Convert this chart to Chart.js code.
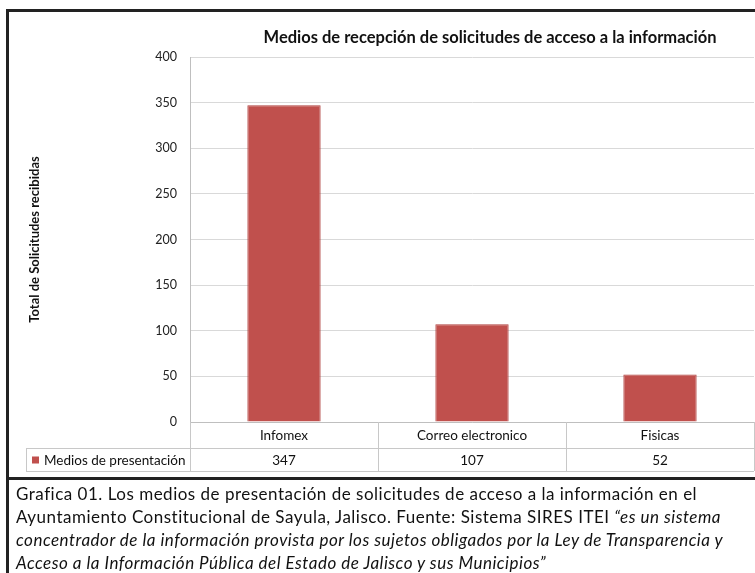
<!DOCTYPE html>
<html>
<head>
<meta charset="utf-8">
<script src="https://cdn.jsdelivr.net/npm/chart.js@4/dist/chart.umd.min.js"></script>
<style>
  body { margin: 0; background: #fff; width: 755px; height: 573px; overflow: hidden; position: relative; font-family: Lato, "Open Sans", sans-serif; }
  #box { position: absolute; left: 6px; top: 9px; width: 760px; height: 467px; border-left: 3px solid #222; border-top: 3px solid #222; }
  #wrap { position: absolute; left: 8px; top: 12px; width: 747px; height: 466px; }
  #caption { position: absolute; left: 6px; top: 477px; width: 760px; height: 100px; border-left: 3px solid #222; border-top: 3px solid #222; }
  #caption p { margin: 0; padding: 2px 0 0 7px; font-size: 17px; letter-spacing: 0.5px; line-height: 23px; color: #111; white-space: nowrap; }
</style>
</head>
<body>
<div id="box"></div>
<div id="wrap"><canvas id="chart" width="747" height="466"></canvas></div>
<div id="caption"><p>Grafica 01. Los medios de presentación de solicitudes de acceso a la información en el<br>Ayuntamiento Constitucional de Sayula, Jalisco. Fuente: Sistema SIRES ITEI <i>“es un sistema<br>concentrador de la información provista por los sujetos obligados por la Ley de Transparencia y<br>Acceso a la Información Pública del Estado de Jalisco y sus Municipios”</i></p></div>
<script>
const categories = ['Infomex', 'Correo electronico', 'Fisicas'];
const seriesName = 'Medios de presentación';
const values = [347, 107, 52];
const chartTitle = 'Medios de recepción de solicitudes de acceso a la información';
const yTitle = 'Total de Solicitudes recibidas';

const barColor = '#c0504d';
const font = 'Lato, "Open Sans", sans-serif';

// title drawn by hand so it sits where the original has it
const titlePlugin = {
    id: 'fixedTitle',
    afterDraw(chart) {
        const ctx = chart.ctx;
        ctx.save();
        ctx.font = 'bold 16.5px ' + font;
        ctx.fillStyle = '#111';
        ctx.textAlign = 'center';
        ctx.textBaseline = 'middle';
        ctx.fillText(chartTitle, 482, 26);
        ctx.restore();
    }
};

// data table under the x axis
const tablePlugin = {
    id: 'dataTable',
    afterDraw(chart) {
        const ctx = chart.ctx;
        const x = chart.scales.x;
        const area = chart.chartArea;
        const y0 = area.bottom, y1 = y0 + 26, y2 = y0 + 49;
        const legendLeft = 18;
        const bounds = [area.left];
        for (let i = 0; i < categories.length - 1; i++) {
            bounds.push((x.getPixelForValue(i) + x.getPixelForValue(i + 1)) / 2);
        }
        bounds.push(area.right);

        ctx.save();
        ctx.strokeStyle = '#c8c8c8';
        ctx.lineWidth = 1;
        ctx.beginPath();
        ctx.moveTo(legendLeft, y1 + 0.5); ctx.lineTo(area.right, y1 + 0.5);
        ctx.moveTo(legendLeft, y2 + 0.5); ctx.lineTo(area.right, y2 + 0.5);
        ctx.moveTo(legendLeft + 0.5, y1); ctx.lineTo(legendLeft + 0.5, y2);
        bounds.forEach(b => {
            ctx.moveTo(Math.round(b) + 0.5, y0); ctx.lineTo(Math.round(b) + 0.5, y2);
        });
        ctx.stroke();

        ctx.fillStyle = '#111';
        ctx.font = '13.5px ' + font;
        ctx.textAlign = 'center';
        ctx.textBaseline = 'middle';
        categories.forEach((c, i) => {
            const cx = x.getPixelForValue(i);
            ctx.fillText(c, cx, (y0 + y1) / 2 + 1);
            ctx.fillText(String(values[i]), cx, (y1 + y2) / 2 + 1);
        });

        ctx.fillStyle = barColor;
        ctx.fillRect(legendLeft + 6, (y1 + y2) / 2 - 3, 7, 7);
        ctx.fillStyle = '#111';
        ctx.textAlign = 'left';
        ctx.fillText(seriesName, legendLeft + 18, (y1 + y2) / 2 + 1);
        ctx.restore();
    }
};

new Chart(document.getElementById('chart').getContext('2d'), {
    type: 'bar',
    data: {
        labels: categories,
        datasets: [{
            label: seriesName,
            data: values,
            backgroundColor: barColor,
            borderColor: '#b0413e',
            borderWidth: 1,
            barPercentage: 0.39,
            categoryPercentage: 1
        }]
    },
    options: {
        responsive: false,
        animation: false,
        layout: { padding: { top: 45, left: 0, right: 1, bottom: 0 } },
        plugins: {
            legend: { display: false },
            tooltip: { enabled: false }
        },
        scales: {
            x: {
                ticks: { display: false },
                grid: { display: false, drawTicks: false },
                border: { color: '#bfbfbf' },
                afterFit(scale) { scale.height = 56; }
            },
            y: {
                min: 0,
                max: 400,
                ticks: { stepSize: 50, padding: 13, color: '#222', font: { family: font, size: 12.5 } },
                grid: { color: '#d9d9d9', drawTicks: false },
                border: { color: '#bfbfbf' },
                title: {
                    display: true,
                    text: yTitle,
                    color: '#111',
                    font: { family: font, size: 13, weight: 'bold' },
                    padding: { top: 19, bottom: 0 }
                },
                afterFit(scale) { scale.width = 182; }
            }
        }
    },
    plugins: [titlePlugin, tablePlugin]
});
</script>
</body>
</html>
